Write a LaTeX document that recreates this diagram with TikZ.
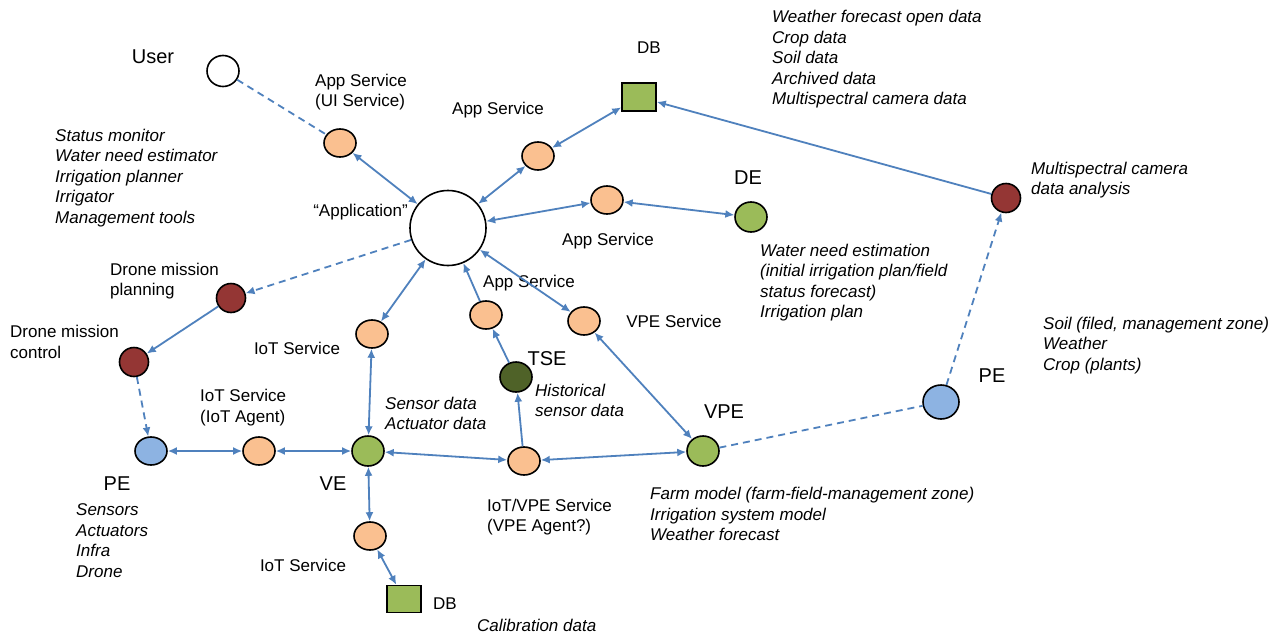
\documentclass[tikz,border=0pt]{standalone}
\usepackage{fontspec}
\setmainfont{Liberation Sans}
\usetikzlibrary{shapes.geometric,arrows.meta}
\definecolor{ln}{HTML}{4F81BD}
\definecolor{org}{HTML}{FAC090}
\definecolor{grn}{HTML}{9BBB59}
\definecolor{dred}{HTML}{943634}
\definecolor{dgrn}{HTML}{4F6228}
\definecolor{lblue}{HTML}{8DB3E2}
\begin{document}
\begin{tikzpicture}[x=1pt,y=-1pt,
  nd/.style={ellipse,draw=black,line width=1.6pt,minimum width=32pt,minimum height=28pt,inner sep=0pt},
  svc/.style={nd,fill=org},
  gnode/.style={nd,fill=grn,minimum height=30pt},
  rnode/.style={nd,fill=dred,minimum width=29pt,minimum height=29pt},
  bnode/.style={nd,fill=lblue},
  dbox/.style={rectangle,draw=black,line width=1.6pt,fill=grn,minimum width=34pt,minimum height=28pt,inner sep=0pt},
  lab/.style={font=\fontsize{17}{20.5}\selectfont,inner sep=0pt,align=left},
  big/.style={font=\fontsize{20}{24}\selectfont,inner sep=0pt},
  itl/.style={lab,font=\fontsize{17}{20.5}\selectfont\itshape},
  con/.style={draw=ln,line width=1.8pt},
  bi/.style={con,{Latex[length=9pt,width=8pt]}-{Latex[length=9pt,width=8pt]}},
  uni/.style={con,-{Latex[length=9pt,width=8pt]}},
  dsh/.style={dash pattern=on 7pt off 5pt}
]
\useasboundingbox (0,0) rectangle (1281,637);
\fill[white] (0,0) rectangle (1281,637);

% nodes
\node[nd,fill=white,minimum width=32pt,minimum height=31pt] (user) at (223,71) {};
\node[svc] (ui) at (340,143) {};
\node[nd,fill=white,minimum width=76pt,minimum height=75pt] (app) at (448,228) {};
\node[svc] (asdb) at (538,156) {};
\node[dbox] (db) at (639,97) {};
\node[svc] (asmid) at (607,200) {};
\node[gnode] (de) at (751,217) {};
\node[rnode] (msa) at (1006,198) {};
\node[rnode] (dmp) at (231,298) {};
\node[rnode] (dmc) at (134,362) {};
\node[bnode] (pel) at (151,451) {};
\node[svc] (iota) at (259,451) {};
\node[gnode] (ve) at (368,451) {};
\node[svc] (iotu) at (372,334) {};
\node[svc] (iotl) at (370,536) {};
\node[dbox,minimum height=27pt] (dbb) at (404,599) {};
\node[svc] (astse) at (486,315) {};
\node[svc] (vpes) at (584,321) {};
\node[nd,fill=dgrn,minimum height=30pt] (tse) at (516,377) {};
\node[svc] (iotvpe) at (524,461) {};
\node[gnode] (vpe) at (703,451) {};
\node[bnode,minimum width=36pt,minimum height=34pt] (per) at (941,402) {};

% labels
\node[big] (tuser) at (153,57) {User};
\node[lab,anchor=west] (tui) at (315,92) {App Service\\(UI Service)};
\node[itl,anchor=west] (tstat) at (55,178) {Status monitor\\Water need estimator\\Irrigation planner\\Irrigator\\Management tools};
\node[lab,anchor=east] (tapp) at (408,212) {“Application”};
\node[lab] (tasdb) at (498,110) {App Service};
\node[lab] (tdb) at (649,48) {DB};
\node[itl,anchor=west] (tdata) at (772,59.5) {Weather forecast open data\\Crop data\\Soil data\\Archived data\\Multispectral camera data};
\node[lab] (tasmid) at (608,241) {App Service};
\node[big] (tde) at (748,178) {DE};
\node[itl,anchor=west] (tmsa) at (1031,180) {Multispectral camera\\data analysis};
\node[itl,anchor=west] (twater) at (760,282.5) {Water need estimation\\(initial irrigation plan/field\\status forecast)\\Irrigation plan};
\node[lab,anchor=west] (tdmp) at (110,281) {Drone mission\\planning};
\node[lab,anchor=west] (tdmc) at (10,342) {Drone mission\\control};
\node[big] (tpel) at (117,484) {PE};
\node[itl,anchor=west] (tsens) at (76,540.5) {Sensors\\Actuators\\Infra\\Drone};
\node[lab,anchor=west] (tiota) at (200,407.5) {IoT Service\\(IoT Agent)};
\node[big] (tve) at (333,484) {VE};
\node[lab] (tiotu) at (297,348) {IoT Service};
\node[itl,anchor=west] (tsd) at (385,413.5) {Sensor data\\Actuator data};
\node[lab] (tiotl) at (303,565) {IoT Service};
\node[lab] (tdbb) at (445,604) {DB};
\node[itl,anchor=west] (tcal) at (477,625) {Calibration data};
\node[lab] (tastse) at (529,283) {App Service};
\node[lab] (tvpes) at (674,321) {VPE Service};
\node[big] (ttse) at (547,359) {TSE};
\node[itl,anchor=west] (thist) at (535,400.5) {Historical\\sensor data};
\node[lab,anchor=west] (tiotvpe) at (487,517) {IoT/VPE Service\\(VPE Agent?)};
\node[big] (tvpe) at (724,412) {VPE};
\node[itl,anchor=west] (tfarm) at (650,514) {Farm model (farm-field-management zone)\\Irrigation system model\\Weather forecast};
\node[big] (tper) at (992,376) {PE};
\node[itl,anchor=west] (tsoil) at (1043,345.5) {Soil (filed, management zone)\\Weather\\Crop (plants)};

% connectors
\draw[con,dsh] (user) -- (ui);
\draw[bi] (ui) -- (app);
\draw[bi] (app) -- (asdb);
\draw[bi] (asdb) -- (db);
\draw[uni] (msa) -- (db);
\draw[bi] (app) -- (asmid);
\draw[bi] (asmid) -- (de);
\draw[uni,dsh] (app) -- (dmp);
\draw[uni] (dmp) -- (dmc);
\draw[uni,dsh] (dmc) -- (pel);
\draw[bi] (pel) -- (iota);
\draw[bi] (iota) -- (ve);
\draw[bi] (ve) -- (iotu);
\draw[bi] (iotu) -- (app);
\draw[bi] (ve) -- (iotl);
\draw[bi] (iotl) -- (dbb);
\draw[bi] (ve) -- (iotvpe);
\draw[bi] (iotvpe) -- (vpe);
\draw[uni] (iotvpe) -- (tse);
\draw[uni] (tse) -- (astse);
\draw[uni] (astse) -- (app);
\draw[bi] (app) -- (vpes);
\draw[bi] (vpes) -- (vpe);
\draw[con,dsh] (vpe) -- (per);
\draw[uni,dsh] (per) -- (msa);
\end{tikzpicture}
\end{document}
